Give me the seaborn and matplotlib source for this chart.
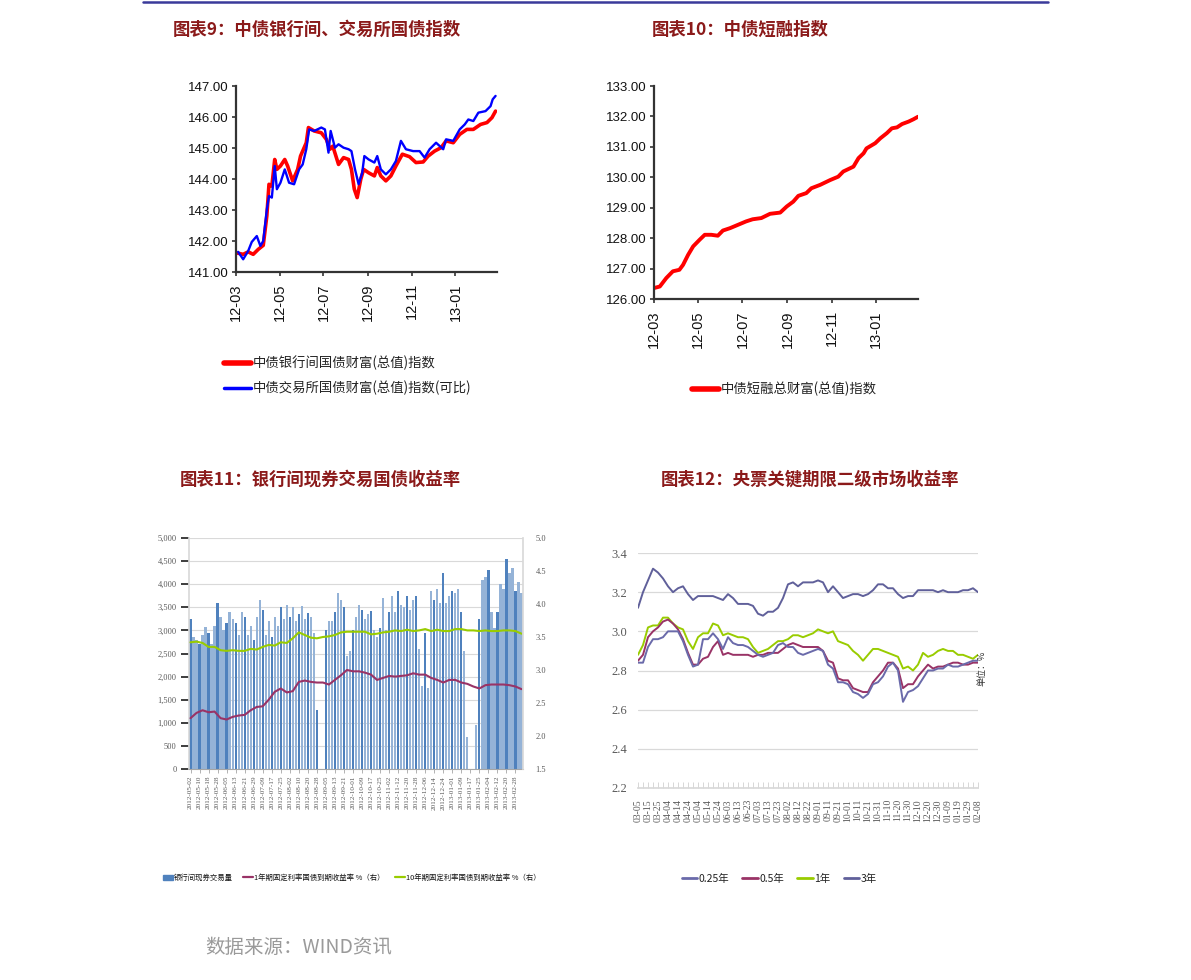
import matplotlib
matplotlib.use("Agg")
import matplotlib.pyplot as plt
import matplotlib.dates as mdates
from matplotlib.lines import Line2D
from matplotlib.patches import Patch
from matplotlib.ticker import FuncFormatter, MultipleLocator, FixedLocator
import seaborn as sns
import pandas as pd
import numpy as np

# ---------------- data: chart 9 (bond indices) ----------------
ib_dates = ["2012-03-01", "2012-03-11", "2012-03-18", "2012-03-25", "2012-04-01", "2012-04-08",
            "2012-04-13", "2012-04-16", "2012-04-20", "2012-04-24", "2012-04-27", "2012-05-02",
            "2012-05-08", "2012-05-12", "2012-05-19", "2012-05-26", "2012-05-30", "2012-06-07",
            "2012-06-10", "2012-06-18", "2012-06-28", "2012-07-05", "2012-07-10", "2012-07-14",
            "2012-07-22", "2012-07-29", "2012-08-05", "2012-08-09", "2012-08-13", "2012-08-17",
            "2012-08-22", "2012-08-26", "2012-09-02", "2012-09-10", "2012-09-14", "2012-09-19",
            "2012-09-26", "2012-10-03", "2012-10-10", "2012-10-19", "2012-10-29", "2012-11-07",
            "2012-11-17", "2012-11-24", "2012-12-03", "2012-12-12", "2012-12-19", "2012-12-29",
            "2013-01-07", "2013-01-17", "2013-01-26", "2013-02-05", "2013-02-14", "2013-02-21",
            "2013-02-26"]
ib_values = [141.62, 141.57, 141.65, 141.57, 141.73, 141.86, 142.81, 143.83, 143.77, 144.63,
             144.31, 144.42, 144.63, 144.42, 143.94, 144.31, 144.74, 145.17, 145.66, 145.55,
             145.49, 145.28, 144.96, 145.06, 144.47, 144.69, 144.63, 144.31, 143.67, 143.40,
             143.99, 144.31, 144.20, 144.10, 144.37, 144.10, 143.94, 144.10, 144.42, 144.80,
             144.72, 144.53, 144.55, 144.74, 144.90, 145.01, 145.23, 145.17, 145.44, 145.60,
             145.60, 145.76, 145.82, 145.98, 146.19]

ex_dates = ["2012-03-04", "2012-03-11", "2012-03-18", "2012-03-23", "2012-03-30", "2012-04-04",
            "2012-04-08", "2012-04-13", "2012-04-16", "2012-04-20", "2012-04-24", "2012-04-27",
            "2012-05-02", "2012-05-08", "2012-05-14", "2012-05-21", "2012-05-28", "2012-06-02",
            "2012-06-07", "2012-06-11", "2012-06-18", "2012-06-28", "2012-07-03", "2012-07-08",
            "2012-07-11", "2012-07-17", "2012-07-22", "2012-07-29", "2012-08-05", "2012-08-09",
            "2012-08-14", "2012-08-19", "2012-08-24", "2012-08-27", "2012-09-02", "2012-09-10",
            "2012-09-14", "2012-09-19", "2012-09-26", "2012-10-03", "2012-10-10", "2012-10-17",
            "2012-10-24", "2012-11-03", "2012-11-12", "2012-11-19", "2012-11-26", "2012-12-05",
            "2012-12-15", "2012-12-19", "2012-12-29", "2013-01-07", "2013-01-14", "2013-01-19",
            "2013-01-26", "2013-02-02", "2013-02-12", "2013-02-19", "2013-02-22", "2013-02-26"]
ex_values = [141.65, 141.41, 141.68, 141.97, 142.16, 141.84, 142.00, 143.02, 143.45, 143.40,
             144.42, 143.67, 143.88, 144.31, 143.88, 143.83, 144.31, 144.47, 144.96, 145.60,
             145.55, 145.66, 145.60, 144.85, 145.55, 145.01, 145.12, 145.01, 144.96, 144.90,
             144.31, 143.83, 144.20, 144.74, 144.63, 144.53, 144.74, 144.31, 144.15, 144.31,
             144.58, 145.23, 144.96, 144.90, 144.90, 144.69, 144.96, 145.17, 144.96, 145.28,
             145.23, 145.60, 145.76, 145.92, 145.87, 146.14, 146.19, 146.35, 146.57, 146.68]

# ---------------- data: chart 10 (short-term financing index) ----------------
sf_dates = ["2012-03-01", "2012-03-09", "2012-03-18", "2012-03-27", "2012-04-05", "2012-04-10",
            "2012-04-17", "2012-04-24", "2012-05-03", "2012-05-10", "2012-05-19", "2012-05-28",
            "2012-06-04", "2012-06-14", "2012-06-25", "2012-07-06", "2012-07-15", "2012-07-27",
            "2012-08-08", "2012-08-22", "2012-08-31", "2012-09-09", "2012-09-16", "2012-09-27",
            "2012-10-04", "2012-10-16", "2012-10-30", "2012-11-10", "2012-11-17", "2012-12-01",
            "2012-12-08", "2012-12-15", "2012-12-19", "2012-12-31", "2013-01-07", "2013-01-16",
            "2013-01-23", "2013-01-30", "2013-02-06", "2013-02-15", "2013-02-22", "2013-02-28"]
sf_values = [126.36, 126.41, 126.69, 126.91, 126.96, 127.12, 127.45, 127.73, 127.95, 128.11,
             128.11, 128.08, 128.25, 128.33, 128.44, 128.55, 128.62, 128.66, 128.80, 128.84,
             129.04, 129.20, 129.39, 129.48, 129.64, 129.75, 129.91, 130.02, 130.19, 130.35,
             130.63, 130.79, 130.95, 131.12, 131.28, 131.45, 131.61, 131.64, 131.75, 131.83,
             131.91, 131.99]

# ---------------- data: chart 11 (interbank volume & yields) ----------------
volume = [3250, 2850, 2800, 2700, 2900, 3080, 2950, 2700, 3100, 3600, 3280, 3000, 3150, 3400,
          3250, 3150, 2900, 3400, 3300, 2900, 3100, 2800, 3300, 3650, 3450, 2900, 3200, 2850,
          3300, 3100, 3500, 3250, 3550, 3300, 3500, 3200, 3350, 3520, 3250, 3370, 3300, 2950,
          1270, 0, 0, 3000, 3200, 3200, 3400, 3800, 3650, 3500, 2450, 2550, 3000, 3300, 3550,
          3450, 3250, 3350, 3420, 3000, 2850, 3050, 3700, 3000, 3400, 3750, 3400, 3850, 3550,
          3500, 3750, 3450, 3650, 3750, 2600, 1800, 2950, 1750, 3850, 3650, 3900, 3600, 4250,
          3600, 3750, 3850, 3800, 3900, 3400, 2550, 700, 0, 0, 950, 3250, 4100, 4150, 4300,
          3400, 3050, 3400, 4000, 3900, 4550, 4250, 4350, 3850, 4050, 3800]
yield_1y = [2.27, 2.35, 2.39, 2.36, 2.37, 2.27, 2.25, 2.29, 2.31, 2.32, 2.39, 2.44, 2.45, 2.55,
            2.67, 2.72, 2.66, 2.68, 2.82, 2.84, 2.82, 2.81, 2.81, 2.78, 2.85, 2.92, 3.00, 2.98,
            2.98, 2.96, 2.93, 2.85, 2.88, 2.91, 2.90, 2.91, 2.92, 2.95, 2.93, 2.93, 2.88, 2.85,
            2.81, 2.85, 2.85, 2.81, 2.79, 2.75, 2.72, 2.77, 2.78, 2.78, 2.78, 2.77, 2.75, 2.71]
yield_10y = [3.42, 3.43, 3.41, 3.35, 3.35, 3.30, 3.29, 3.30, 3.29, 3.29, 3.32, 3.31, 3.35, 3.38,
             3.37, 3.42, 3.41, 3.48, 3.57, 3.53, 3.49, 3.48, 3.50, 3.51, 3.53, 3.57, 3.58, 3.58,
             3.58, 3.58, 3.54, 3.55, 3.57, 3.58, 3.60, 3.59, 3.61, 3.59, 3.60, 3.62, 3.59, 3.61,
             3.59, 3.59, 3.62, 3.62, 3.60, 3.60, 3.59, 3.60, 3.59, 3.59, 3.60, 3.60, 3.59, 3.55]
vol_dates = pd.bdate_range("2012-05-02", periods=len(volume), freq="2B")

# ---------------- data: chart 12 (central bank bill yields) ----------------
cb_025 = [2.84, 2.84, 2.92, 2.96, 2.96, 2.97, 3.00, 3.00, 3.00, 2.95, 2.88, 2.82, 2.83, 2.96,
          2.96, 2.99, 2.96, 2.91, 2.97, 2.94, 2.93, 2.93, 2.92, 2.90, 2.88, 2.87, 2.88, 2.89,
          2.93, 2.94, 2.92, 2.92, 2.89, 2.88, 2.89, 2.90, 2.91, 2.90, 2.83, 2.81, 2.74, 2.74,
          2.73, 2.69, 2.68, 2.66, 2.68, 2.73, 2.74, 2.77, 2.82, 2.84, 2.80, 2.64, 2.69, 2.70,
          2.72, 2.76, 2.80, 2.80, 2.81, 2.81, 2.83, 2.82, 2.82, 2.83, 2.84, 2.85, 2.85]
cb_05 = [2.85, 2.88, 2.97, 3.00, 3.02, 3.05, 3.06, 3.04, 3.01, 2.96, 2.89, 2.83, 2.83, 2.86,
         2.87, 2.92, 2.95, 2.88, 2.89, 2.88, 2.88, 2.88, 2.88, 2.87, 2.88, 2.88, 2.89, 2.89,
         2.89, 2.91, 2.93, 2.94, 2.93, 2.92, 2.92, 2.92, 2.92, 2.90, 2.85, 2.84, 2.76, 2.75,
         2.75, 2.71, 2.70, 2.69, 2.69, 2.74, 2.77, 2.80, 2.84, 2.84, 2.81, 2.71, 2.73, 2.73,
         2.77, 2.80, 2.83, 2.81, 2.82, 2.82, 2.83, 2.84, 2.84, 2.83, 2.83, 2.84, 2.84]
cb_1 = [2.88, 2.93, 3.02, 3.03, 3.03, 3.07, 3.07, 3.04, 3.02, 3.01, 2.95, 2.91, 2.97, 2.99,
        2.99, 3.04, 3.03, 2.98, 2.99, 2.98, 2.97, 2.97, 2.96, 2.92, 2.89, 2.90, 2.91, 2.93,
        2.95, 2.95, 2.96, 2.98, 2.98, 2.97, 2.98, 2.99, 3.01, 3.00, 2.99, 3.00, 2.95, 2.94,
        2.93, 2.90, 2.88, 2.85, 2.88, 2.91, 2.91, 2.90, 2.89, 2.88, 2.87, 2.81, 2.82, 2.80,
        2.83, 2.89, 2.87, 2.88, 2.90, 2.91, 2.90, 2.90, 2.88, 2.88, 2.87, 2.86, 2.88]
cb_3 = [3.12, 3.20, 3.26, 3.32, 3.30, 3.27, 3.23, 3.20, 3.22, 3.23, 3.19, 3.16, 3.18, 3.18,
        3.18, 3.18, 3.17, 3.16, 3.19, 3.17, 3.14, 3.14, 3.14, 3.13, 3.09, 3.08, 3.10, 3.10,
        3.12, 3.17, 3.24, 3.25, 3.23, 3.25, 3.25, 3.25, 3.26, 3.25, 3.20, 3.23, 3.20, 3.17,
        3.18, 3.19, 3.19, 3.18, 3.19, 3.21, 3.24, 3.24, 3.22, 3.22, 3.19, 3.17, 3.18, 3.18,
        3.21, 3.21, 3.21, 3.21, 3.20, 3.21, 3.20, 3.20, 3.20, 3.21, 3.21, 3.22, 3.20]
cb_dates = pd.date_range("2012-03-05", periods=len(cb_3), freq="5D")

cb_labels = ["0.25年", "0.5年", "1年", "3年"]
cb_colors = ["#6A6AAA", "#993366", "#99CC00", "#60609A"]

# ---------------- style ----------------
sns.set_theme(style="white")
CJK = ["Noto Sans CJK SC", "DejaVu Sans"]
plt.rcParams["font.family"] = CJK
plt.rcParams["axes.unicode_minus"] = False
TITLE_C = "#8B1A1A"
SERIF = ["Liberation Serif", "DejaVu Serif"]
W, H = 1191, 980

fig = plt.figure(figsize=(W / 100, H / 100), dpi=100)
fig.patch.set_facecolor("white")


def fx(px):
    return px / W


def fy(py):
    return 1 - py / H


def add_ax(l, t, r, b):
    return fig.add_axes([fx(l), fy(b), fx(r) - fx(l), (b - t) / H])


# top rule
fig.add_artist(Line2D([fx(143), fx(1048)], [fy(2), fy(2)], color="#3A3A9A", lw=1.8))

# titles
for x, y, txt in [(173, 30, "图表9：中债银行间、交易所国债指数"),
                  (652, 30, "图表10：中债短融指数"),
                  (180, 480, "图表11：银行间现券交易国债收益率"),
                  (661, 480, "图表12：央票关键期限二级市场收益率")]:
    fig.text(fx(x), fy(y), txt, color=TITLE_C, fontsize=12.5, fontweight="bold",
             va="center", ha="left")
fig.text(fx(205), fy(947), "数据来源：WIND资讯", color="#9A9A9A", fontsize=14,
         va="center", ha="left")


def style_index_axis(ax, ymin, ymax):
    ax.set_facecolor("white")
    ax.set_ylim(ymin, ymax)
    ax.yaxis.set_major_locator(MultipleLocator(1))
    ax.yaxis.set_major_formatter(FuncFormatter(lambda v, p: f"{v:.2f}"))
    ax.set_xlim(pd.Timestamp("2012-03-01"), pd.Timestamp("2013-02-28"))
    ax.xaxis.set_major_locator(mdates.MonthLocator(bymonth=[1, 3, 5, 7, 9, 11]))
    ax.xaxis.set_major_formatter(mdates.DateFormatter("%y-%m"))
    for s in ["top", "right"]:
        ax.spines[s].set_visible(False)
    for s in ["left", "bottom"]:
        ax.spines[s].set_color("#333333")
        ax.spines[s].set_linewidth(1.6)
    ax.tick_params(axis="both", direction="out", length=3, width=1.2, color="#333333",
                   labelcolor="#111111", left=True, bottom=True, pad=2)
    ax.tick_params(axis="y", labelsize=9.5)
    ax.tick_params(axis="x", labelsize=10.5, pad=5)
    for lab in ax.get_yticklabels() + ax.get_xticklabels():
        lab.set_family(["Liberation Sans", "DejaVu Sans"])
    plt.setp(ax.get_xticklabels(), rotation=90, ha="center", va="top")
    ax.set_xlabel("")
    ax.set_ylabel("")
    ax.grid(False)


# ---------------- chart 9 ----------------
ax1 = add_ax(236, 86, 497, 272)
df_ib = pd.DataFrame({"date": pd.to_datetime(ib_dates), "v": ib_values})
df_ex = pd.DataFrame({"date": pd.to_datetime(ex_dates), "v": ex_values})
sns.lineplot(data=df_ib, x="date", y="v", ax=ax1, color="#FF0000", lw=2.6)
sns.lineplot(data=df_ex, x="date", y="v", ax=ax1, color="#0000FF", lw=1.7)
style_index_axis(ax1, 141, 147)

fig.legend(handles=[Line2D([], [], color="#FF0000", lw=4),
                    Line2D([], [], color="#0000FF", lw=2.5)],
           labels=["中债银行间国债财富(总值)指数", "中债交易所国债财富(总值)指数(可比)"],
           loc="upper left", bbox_to_anchor=(fx(212), fy(344)), frameon=False,
           fontsize=9.6, handlelength=2.0, handletextpad=0.15, labelspacing=0.75,
           labelcolor="#222222")

# ---------------- chart 10 ----------------
ax2 = add_ax(654, 86, 918, 299)
df_sf = pd.DataFrame({"date": pd.to_datetime(sf_dates), "v": sf_values})
sns.lineplot(data=df_sf, x="date", y="v", ax=ax2, color="#FF0000", lw=2.8)
style_index_axis(ax2, 126, 133)

fig.legend(handles=[Line2D([], [], color="#FF0000", lw=4)],
           labels=["中债短融总财富(总值)指数"],
           loc="upper left", bbox_to_anchor=(fx(680), fy(370)), frameon=False,
           fontsize=9.6, handlelength=2.0, handletextpad=0.15, labelcolor="#222222")

# ---------------- chart 11 ----------------
ax3 = add_ax(189, 538, 523, 769)
idx = np.arange(len(volume))
sns.barplot(x=idx, y=volume, ax=ax3, color="#4F81BD", width=0.75, saturation=1,
            native_scale=True, linewidth=0)
for i, p in enumerate(ax3.patches):
    p.set_facecolor("#4F81BD" if i % 3 == 0 else "#95B3D7")
ax3.set_xlim(-0.5, len(volume) - 0.5)
ax3.set_ylim(0, 5000)
ax3.yaxis.set_major_locator(MultipleLocator(500))
ax3.yaxis.set_major_formatter(FuncFormatter(lambda v, p: f"{v:,.0f}"))
ax3.grid(axis="y", color="#D9D9D9", lw=0.8)
ax3.grid(axis="x", visible=False)
ax3.set_axisbelow(True)
for s in ["top", "right"]:
    ax3.spines[s].set_visible(False)
ax3.spines["left"].set_color("#D9D9D9")
ax3.spines["bottom"].set_color("#A6A6A6")
ax3.spines["bottom"].set_linewidth(0.8)
ax3.xaxis.set_major_locator(FixedLocator(idx[::3]))
ax3.set_xticklabels([d.strftime("%Y-%m-%d") for d in vol_dates[::3]], rotation=90,
                    fontsize=5.2, color="#595959", family=SERIF)
ax3.tick_params(axis="x", bottom=True, length=3, width=0.6, color="#A6A6A6", pad=2)
ax3.tick_params(axis="y", left=False, labelsize=6, labelcolor="#595959", pad=3)
for lab in ax3.get_yticklabels():
    lab.set_family(SERIF)
ax3.set_xlabel("")
ax3.set_ylabel("")

ax3r = ax3.twinx()
sns.lineplot(x=idx[::2], y=yield_10y, ax=ax3r, color="#99CC00", lw=1.5)
sns.lineplot(x=idx[::2], y=yield_1y, ax=ax3r, color="#993366", lw=1.5)
ax3r.set_ylim(1.5, 5.0)
ax3r.yaxis.set_major_locator(MultipleLocator(0.5))
ax3r.yaxis.set_major_formatter(FuncFormatter(lambda v, p: f"{v:.1f}"))
ax3r.grid(False)
for s in ["top", "left", "bottom"]:
    ax3r.spines[s].set_visible(False)
ax3r.spines["right"].set_color("#D9D9D9")
ax3r.tick_params(axis="y", right=False, labelsize=6, labelcolor="#595959", pad=3)
for lab in ax3r.get_yticklabels():
    lab.set_family(SERIF)
ax3r.set_xlabel("")
ax3r.set_ylabel("")

fig.legend(handles=[Patch(color="#4F81BD"),
                    Line2D([], [], color="#993366", lw=1.6),
                    Line2D([], [], color="#99CC00", lw=1.6)],
           labels=["银行间现券交易量", "1年期固定利率国债到期收益率 %（右）",
                   "10年期固定利率国债到期收益率 %（右）"],
           loc="center", bbox_to_anchor=(fx(352), fy(878)), ncol=3, frameon=False,
           fontsize=5.3, handlelength=1.3, handleheight=0.8, handletextpad=0.2,
           columnspacing=1.4, labelcolor="#111111")

# ---------------- chart 12 ----------------
ax4 = add_ax(638, 553, 978, 788)
xi = np.arange(len(cb_3))
for vals, col in zip([cb_3, cb_1, cb_05, cb_025],
                     [cb_colors[3], cb_colors[2], cb_colors[1], cb_colors[0]]):
    sns.lineplot(x=xi, y=vals, ax=ax4, color=col, lw=1.4)
ax4.set_xlim(0, len(cb_3) - 1)
ax4.set_ylim(2.2, 3.4)
ax4.yaxis.set_major_locator(MultipleLocator(0.2))
ax4.yaxis.set_major_formatter(FuncFormatter(lambda v, p: f"{v:.1f}"))
ax4.grid(axis="y", color="#D9D9D9", lw=0.9)
ax4.grid(axis="x", visible=False)
for s in ["top", "right", "left"]:
    ax4.spines[s].set_visible(False)
ax4.spines["bottom"].set_color("#D9D9D9")
ax4.xaxis.set_major_locator(FixedLocator(xi[::2]))
ax4.xaxis.set_minor_locator(FixedLocator(xi))
ax4.set_xticklabels([d.strftime("%m-%d") for d in cb_dates[::2]], rotation=90,
                    fontsize=7, color="#595959", family=SERIF)
ax4.tick_params(axis="x", which="both", bottom=True, length=4, width=0.5, color="#C8C8C8",
                pad=8, direction="in")
ax4.tick_params(axis="y", left=False, labelsize=9, labelcolor="#595959", pad=2)
for lab in ax4.get_yticklabels():
    lab.set_family(SERIF)
ax4.set_xlabel("")
ax4.set_ylabel("")
fig.text(fx(982), fy(668), "单位：%", rotation=90, fontsize=6.5, color="#333333",
         ha="center", va="center")

fig.legend(handles=[Line2D([], [], color=c, lw=2) for c in cb_colors],
           labels=cb_labels, loc="center", bbox_to_anchor=(fx(779), fy(879)), ncol=4,
           frameon=False, fontsize=7.5, handlelength=1.5, handletextpad=0.1,
           columnspacing=1.3, labelcolor="#222222")

fig.savefig("out.png", dpi=100, facecolor="white")
